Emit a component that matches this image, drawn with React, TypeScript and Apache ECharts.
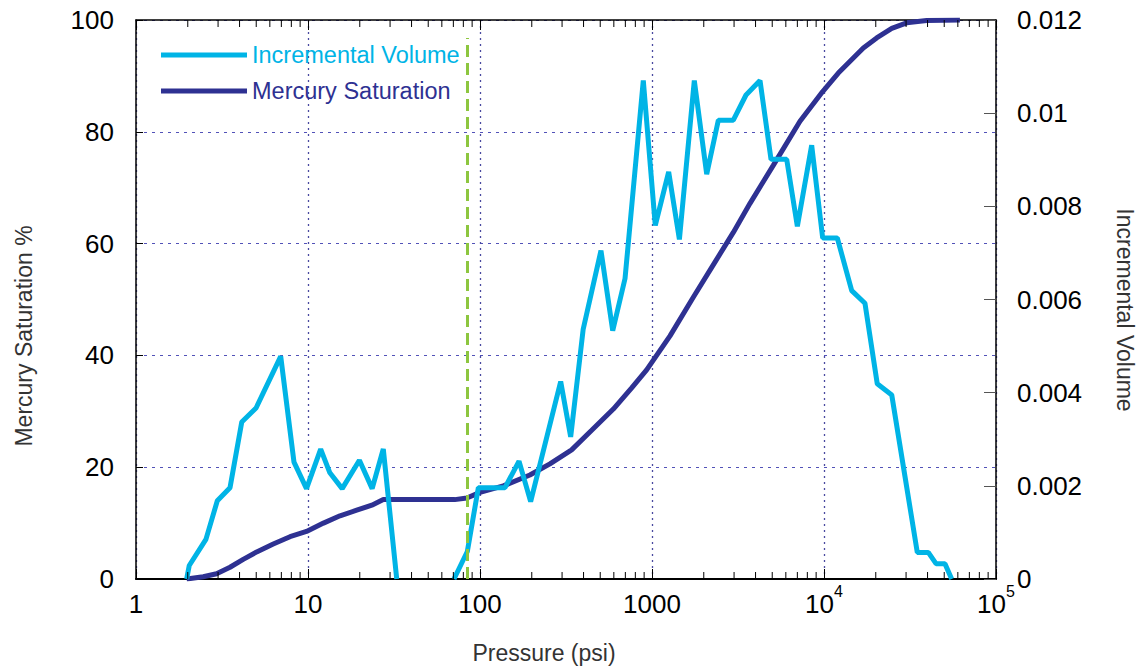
import React, { useEffect, useRef } from "react";
import * as echarts from "echarts";

// ---------- data ----------
const ivPressure1 = [1.97, 2.04, 2.55, 2.97, 3.52, 4.12, 4.99, 6.94, 8.29, 9.8, 11.85, 13.4, 15.8, 19.9, 23.6, 27.4, 32.8];
const ivValues1 = [0, 0.00029, 0.00085, 0.00168, 0.00196, 0.00337, 0.00367, 0.00478, 0.00251, 0.00194, 0.00279, 0.00228, 0.00194, 0.00255, 0.00194, 0.00279, 0];

const ivPressure2 = [70.6, 84.4, 97.8, 139.7, 168.6, 197, 294.5, 336.6, 398, 505, 591, 697, 890, 1045, 1250, 1443, 1762, 2080, 2430, 2970, 3520, 4247, 4920, 6070, 7000, 8480, 9825, 11950, 14490, 17300, 20400, 24770, 29570, 34860, 40400, 44800, 50500, 55250];
const ivValues2 = [0, 0.00059, 0.00196, 0.00196, 0.00253, 0.00166, 0.00424, 0.00305, 0.00536, 0.00705, 0.00533, 0.00645, 0.0107, 0.00759, 0.00874, 0.00729, 0.0107, 0.00869, 0.00985, 0.00985, 0.01039, 0.0107, 0.00901, 0.00901, 0.00757, 0.00931, 0.00732, 0.00732, 0.00619, 0.00592, 0.00419, 0.00395, 0.0022, 0.00057, 0.00057, 0.00033, 0.00033, 0];

const msPressure = [1.97, 2.46, 2.94, 3.52, 4.2, 5.03, 6.28, 7.86, 9.8, 12.3, 15.35, 19.2, 23.5, 27.4, 71.3, 83.9, 100, 136.6, 195, 255, 341, 446, 596, 762, 931, 1273, 1738, 2271, 2970, 3715, 5070, 7250, 9825, 12110, 16930, 20240, 24770, 30250, 39550, 61700];
const msValues = [0, 0.4, 0.95, 2.1, 3.5, 4.85, 6.26, 7.57, 8.5, 10.0, 11.3, 12.3, 13.2, 14.2, 14.2, 14.5, 15.5, 16.65, 18.6, 20.6, 23.1, 26.6, 30.4, 34.2, 37.4, 43.5, 50.4, 56.2, 62.0, 67.2, 74.0, 81.9, 87.2, 90.5, 95.0, 96.8, 98.5, 99.5, 99.9, 100];

const thresholdPressure = 84;
const thresholdTop = 96.8;

const decades = [1, 10, 100, 1000, 10000];
const minorMultipliers = [2, 3, 4, 5, 6, 7, 8, 9];

const CYAN = "#00B4E6";
const NAVY = "#2E3192";
const GREEN = "#8DC63F";
const FONT = '"Liberation Sans", Arial, Helvetica, sans-serif';

export default function App() {
  const ref = useRef<HTMLDivElement>(null);

  useEffect(() => {
    if (!ref.current) return;
    const chart = echarts.init(ref.current, undefined, { renderer: "svg" });

    const ivData: any[] = [];
    ivPressure1.forEach((p, i) => ivData.push([p, ivValues1[i]]));
    ivData.push(["-", "-"]);
    ivPressure2.forEach((p, i) => ivData.push([p, ivValues2[i]]));
    const msData = msPressure.map((p, i) => [p, msValues[i]]);

    const minorTicks: number[][] = [];
    decades.forEach((d) => minorMultipliers.forEach((m) => minorTicks.push([d * m, 0])));

    const xLabel = {
      fontFamily: FONT,
      color: "#000",
      margin: 4,
      formatter: (v: number) => {
        const e = Math.round(Math.log10(v));
        return e >= 4 ? `{b|10}{s|${e}}` : `{b|${Math.round(v)}}`;
      },
      rich: {
        b: { fontSize: 26, fontFamily: FONT, color: "#000", lineHeight: 34, verticalAlign: "bottom" },
        s: { fontSize: 16, fontFamily: FONT, color: "#000", lineHeight: 16, verticalAlign: "top" },
      },
    };

    const option: any = {
      animation: false,
      grid: { left: 136, right: 150, top: 20, bottom: 92, containLabel: false },
      legend: {
        orient: "vertical",
        left: 156,
        top: 37,
        itemWidth: 86,
        itemHeight: 5,
        itemGap: 10,
        textStyle: { fontSize: 23.5, fontFamily: FONT, lineHeight: 26 },
        data: [
          { name: "Incremental Volume", icon: "rect", itemStyle: { color: CYAN }, textStyle: { color: CYAN } },
          { name: "Mercury Saturation", icon: "rect", itemStyle: { color: NAVY }, textStyle: { color: NAVY } },
        ],
      },
      xAxis: [
        {
          type: "log",
          logBase: 10,
          min: 1,
          max: 100000,
          position: "bottom",
          axisLine: { show: true, onZero: false, lineStyle: { color: "#000", width: 2 } },
          axisTick: { show: true, inside: true, length: 10, lineStyle: { color: "#000", width: 1 } },
          axisLabel: xLabel,
          splitLine: { show: true, lineStyle: { color: "#4a4aa0", type: [2, 4], width: 1.3 } },
          name: "Pressure (psi)",
          nameLocation: "middle",
          nameGap: 62,
          nameTextStyle: { fontSize: 23, fontFamily: FONT, color: "#333", padding: [0, 44, 0, 0] },
        },
        {
          type: "log",
          logBase: 10,
          min: 1,
          max: 100000,
          position: "top",
          axisLine: { show: true, onZero: false, lineStyle: { color: "#000", width: 1.5 } },
          axisTick: { show: true, inside: true, length: 10, lineStyle: { color: "#000", width: 1 } },
          axisLabel: { show: false },
          splitLine: { show: false },
        },
      ],
      yAxis: [
        {
          type: "value",
          min: 0,
          max: 100,
          interval: 20,
          position: "left",
          axisLine: { show: true, lineStyle: { color: "#000", width: 1.5 } },
          axisTick: { show: true, inside: true, length: 7, lineStyle: { color: "#000" } },
          axisLabel: { fontSize: 26, fontFamily: FONT, color: "#000", margin: 22 },
          splitLine: { show: true, lineStyle: { color: "#5252b8", type: [3, 5], width: 1 } },
          name: "Mercury Saturation %",
          nameLocation: "middle",
          nameGap: 101,
          nameTextStyle: { fontSize: 23, fontFamily: FONT, color: "#333", padding: [0, 73, 0, 0] },
        },
        {
          type: "value",
          min: 0,
          max: 0.012,
          interval: 0.002,
          position: "right",
          axisLine: { show: true, lineStyle: { color: "#000", width: 1.5 } },
          axisTick: { show: true, inside: true, length: 12, lineStyle: { color: "#555" } },
          axisLabel: { fontSize: 26, fontFamily: FONT, color: "#000", margin: 21 },
          splitLine: { show: false },
          name: "Incremental Volume",
          nameLocation: "middle",
          nameRotate: -90,
          nameGap: 117,
          nameTextStyle: { fontSize: 23, fontFamily: FONT, color: "#333", padding: [0, 0, 0, 21] },
        },
      ],
      series: [
        {
          name: "Mercury Saturation",
          type: "line",
          xAxisIndex: 0,
          yAxisIndex: 0,
          data: msData,
          showSymbol: false,
          symbol: "none",
          color: NAVY,
          lineStyle: { color: NAVY, width: 5 },
          z: 3,
          markLine: {
            silent: true,
            symbol: ["none", "none"],
            label: { show: false },
            lineStyle: { color: GREEN, type: [12, 6], width: 3 },
            data: [[{ coord: [thresholdPressure, 0] }, { coord: [thresholdPressure, thresholdTop] }]],
          },
        },
        {
          name: "Incremental Volume",
          type: "line",
          xAxisIndex: 0,
          yAxisIndex: 1,
          data: ivData,
          connectNulls: false,
          showSymbol: false,
          symbol: "none",
          color: CYAN,
          lineStyle: { color: CYAN, width: 5 },
          z: 4,
        },
        {
          name: "minorTicks",
          type: "custom",
          xAxisIndex: 0,
          yAxisIndex: 0,
          silent: true,
          data: minorTicks,
          z: 5,
          renderItem: (_params: any, api: any) => {
            const x = api.value(0);
            const pb = api.coord([x, 0]);
            const pt = api.coord([x, 100]);
            return {
              type: "group",
              children: [
                { type: "line", shape: { x1: pb[0], y1: pb[1], x2: pb[0], y2: pb[1] - 7 }, style: { stroke: "#000", lineWidth: 1 } },
                { type: "line", shape: { x1: pt[0], y1: pt[1], x2: pt[0], y2: pt[1] + 7 }, style: { stroke: "#000", lineWidth: 1 } },
              ],
            };
          },
        },
      ],
    };

    chart.setOption(option);
    return () => chart.dispose();
  }, []);

  return (
    <div
      ref={ref}
      style={{ position: "fixed", left: 0, top: 0, width: 1146, height: 671, background: "#fff" }}
    />
  );
}
